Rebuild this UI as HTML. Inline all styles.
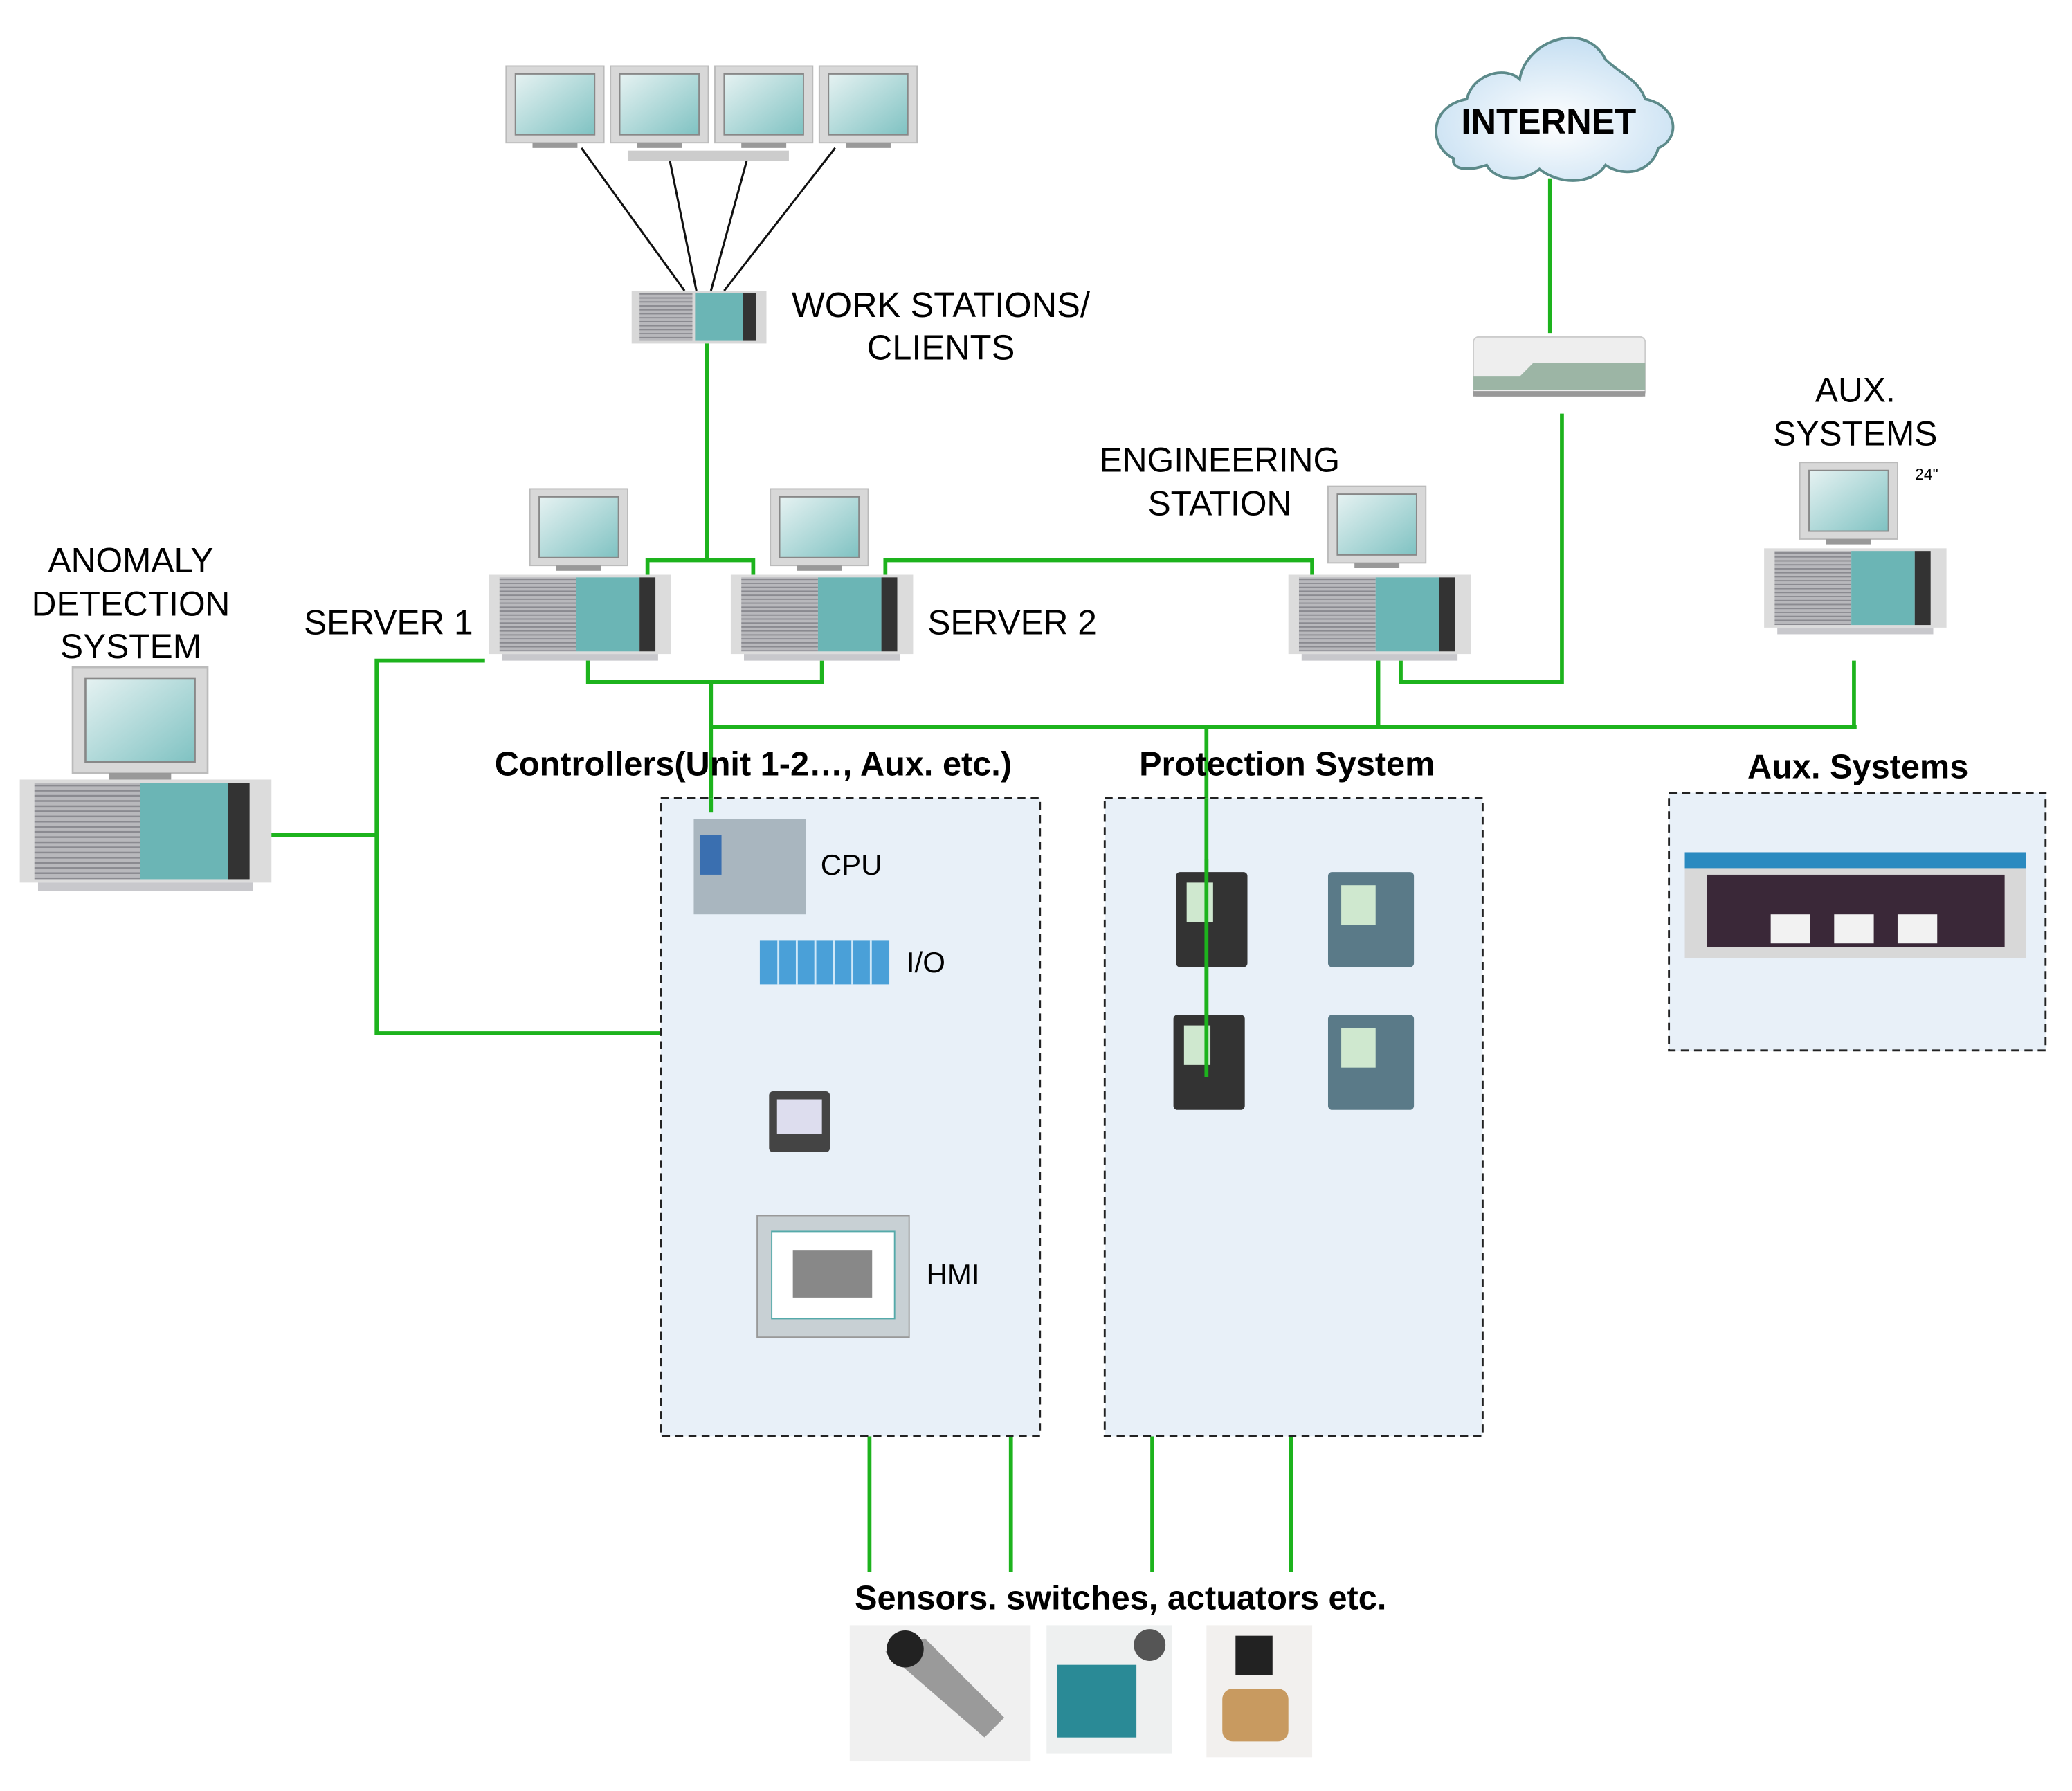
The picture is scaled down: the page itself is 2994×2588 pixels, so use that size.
<!DOCTYPE html>
<html><head><meta charset="utf-8"><style>html,body{margin:0;padding:0;background:#fff}svg{display:block}</style></head><body>
<svg width="2994" height="2588" viewBox="0 0 1568 1355.5" preserveAspectRatio="none" xmlns="http://www.w3.org/2000/svg" font-family="Liberation Sans, sans-serif">
<defs>
<linearGradient id="scr" x1="0" y1="0" x2="1" y2="1"><stop offset="0" stop-color="#e6f2f2"/><stop offset="1" stop-color="#7fc2c2"/></linearGradient>
<pattern id="str" width="4" height="3" patternUnits="userSpaceOnUse"><rect width="4" height="3" fill="#b8b8bc"/><rect width="4" height="1" fill="#8a8a90"/></pattern>
<radialGradient id="cl" cx="0.5" cy="0.6" r="0.6"><stop offset="0" stop-color="#fff"/><stop offset="1" stop-color="#c6dff2"/></radialGradient>
<g id="mon"><rect x="0" y="0" width="74" height="58" fill="#d8d8d8" stroke="#bbb"/><rect x="7" y="6" width="60" height="46" fill="url(#scr)" stroke="#888"/><rect x="20" y="58" width="34" height="4" fill="#999"/></g>
<g id="pc"><rect x="0" y="0" width="138" height="60" fill="#dcdcdc"/><rect x="8" y="2" width="58" height="56" fill="url(#str)"/><rect x="66" y="2" width="48" height="56" fill="#6bb5b5"/><rect x="114" y="2" width="12" height="56" fill="#333"/><rect x="10" y="60" width="118" height="5" fill="#c8c8cc"/></g>
</defs>
<g fill="none" stroke="#111" stroke-width="1.6">
<line x1="440" y1="112" x2="518" y2="220"/><line x1="507" y1="122" x2="527" y2="220"/><line x1="565" y1="122" x2="538" y2="220"/><line x1="632" y1="112" x2="548" y2="220"/>
</g>
<use href="#mon" x="383" y="50"/><use href="#mon" x="462" y="50"/><use href="#mon" x="541" y="50"/><use href="#mon" x="620" y="50"/>
<rect x="475" y="114" width="122" height="8" fill="#ccc"/>
<rect x="478" y="220" width="102" height="40" fill="#d8d8d8"/><rect x="484" y="222" width="40" height="36" fill="url(#str)"/><rect x="526" y="222" width="36" height="36" fill="#6bb5b5"/><rect x="562" y="222" width="10" height="36" fill="#333"/>
<text x="712" y="240" font-size="26.5" text-anchor="middle">WORK STATIONS/</text><text x="712" y="272" font-size="26.5" text-anchor="middle">CLIENTS</text>
<path d="M1100 120 C1080 110,1082 80,1110 75 C1115 55,1140 50,1150 60 C1155 30,1200 15,1215 45 C1225 55,1240 60,1245 75 C1270 80,1272 105,1255 112 C1250 130,1230 135,1215 125 C1205 140,1180 140,1165 128 C1150 140,1130 135,1125 125 C1110 130,1098 128,1100 120 Z" fill="url(#cl)" stroke="#5c8a8a" stroke-width="2"/>
<text x="1172" y="101" font-size="26.5" font-weight="bold" text-anchor="middle">INTERNET</text>
<rect x="1115" y="255" width="130" height="45" rx="4" fill="#eee" stroke="#ccc"/><path d="M1115 285 L1150 285 L1160 275 L1245 275 L1245 295 L1115 295Z" fill="#9cb5a5"/><rect x="1115" y="296" width="130" height="4" fill="#999"/>
<g fill="none" stroke="#1db31d" stroke-width="3">
<line x1="1173" y1="135" x2="1173" y2="252"/>
<polyline points="535,260 535,424"/><polyline points="490,435 490,424 570,424 570,435"/>
<polyline points="670,435 670,424 993,424 993,435"/>
<polyline points="445,497 445,516 622,516 622,500"/>
<polyline points="538,516 538,615"/>
<polyline points="538,550 1405,550"/>
<polyline points="1043,497 1043,550"/><polyline points="1403,500 1403,550"/>
<polyline points="913,550 913,815"/>
<polyline points="1060,500 1060,516 1182,516 1182,313"/>
<polyline points="205,632 285,632"/><polyline points="367,500 285,500 285,782 500,782"/>
<polyline points="538,692 538,820"/><polyline points="538,717 575,717"/><polyline points="538,850 582,850"/><polyline points="532,780 532,970 572,970"/>
<line x1="658" y1="1087" x2="658" y2="1190"/><line x1="765" y1="1087" x2="765" y2="1190"/><line x1="872" y1="1087" x2="872" y2="1190"/><line x1="977" y1="1087" x2="977" y2="1190"/>
</g>
<use href="#mon" x="401" y="370"/><use href="#pc" x="370" y="435"/>
<use href="#mon" x="583" y="370"/><use href="#pc" x="553" y="435"/>
<use href="#mon" x="1005" y="368"/><use href="#pc" x="975" y="435"/>
<use href="#mon" x="1362" y="350"/><use href="#pc" x="1335" y="415"/>
<g transform="translate(55,505) scale(1.38)"><use href="#mon"/></g>
<g transform="translate(15,590) scale(1.38,1.3)"><use href="#pc"/></g>
<text x="294" y="480" font-size="26" text-anchor="middle">SERVER 1</text>
<text x="766" y="480" font-size="26" text-anchor="middle">SERVER 2</text>
<text x="923" y="357" font-size="26" text-anchor="middle">ENGINEERING</text><text x="923" y="390" font-size="26" text-anchor="middle">STATION</text>
<text x="1404" y="304" font-size="26" text-anchor="middle">AUX.</text><text x="1404" y="337" font-size="26" text-anchor="middle">SYSTEMS</text>
<text x="1458" y="363" font-size="12" text-anchor="middle">24"</text>
<text x="99" y="433" font-size="26" text-anchor="middle">ANOMALY</text><text x="99" y="466" font-size="26" text-anchor="middle">DETECTION</text><text x="99" y="498" font-size="26" text-anchor="middle">SYSTEM</text>
<g fill="#e8f0f8" stroke="#222" stroke-width="1.5" stroke-dasharray="6,4">
<rect x="500" y="604" width="287" height="483"/><rect x="836" y="604" width="286" height="483"/><rect x="1263" y="600" width="285" height="195"/>
</g>
<g stroke="#1db31d" stroke-width="3"><line x1="913" y1="604" x2="913" y2="815"/><line x1="538" y1="604" x2="538" y2="615"/></g>
<text x="570" y="587" font-size="25.5" font-weight="bold" text-anchor="middle">Controllers(Unit 1-2…, Aux. etc.)</text>
<text x="974" y="587" font-size="25.5" font-weight="bold" text-anchor="middle">Protection System</text>
<text x="1406" y="589" font-size="25.5" font-weight="bold" text-anchor="middle">Aux. Systems</text>
<rect x="525" y="620" width="85" height="72" fill="#a9b6bf"/><rect x="530" y="632" width="16" height="30" fill="#3a6fb0"/>
<rect x="575" y="712" width="98" height="33" fill="#4aa0d8"/><g stroke="#cfe8f8" stroke-width="1.5"><line x1="589" y1="712" x2="589" y2="745"/><line x1="603" y1="712" x2="603" y2="745"/><line x1="617" y1="712" x2="617" y2="745"/><line x1="631" y1="712" x2="631" y2="745"/><line x1="645" y1="712" x2="645" y2="745"/><line x1="659" y1="712" x2="659" y2="745"/></g>
<rect x="582" y="826" width="46" height="46" rx="3" fill="#444"/><rect x="588" y="832" width="34" height="26" fill="#dde"/>
<rect x="573" y="920" width="115" height="92" fill="#c8d0d4" stroke="#999"/><rect x="584" y="932" width="93" height="66" fill="#fff" stroke="#5aa"/><rect x="600" y="946" width="60" height="36" fill="#888"/>
<text x="621" y="662" font-size="22">CPU</text><text x="686" y="736" font-size="22">I/O</text><text x="701" y="972" font-size="22">HMI</text>
<g fill="#333"><rect x="890" y="660" width="54" height="72" rx="3"/><rect x="888" y="768" width="54" height="72" rx="3"/></g>
<g fill="#5a7a88"><rect x="1005" y="660" width="65" height="72" rx="3"/><rect x="1005" y="768" width="65" height="72" rx="3"/></g>
<g fill="#cfe8cf"><rect x="1015" y="670" width="26" height="30"/><rect x="1015" y="778" width="26" height="30"/><rect x="898" y="668" width="20" height="30"/><rect x="896" y="776" width="20" height="30"/></g>
<g stroke="#1db31d" stroke-width="3"><line x1="913" y1="650" x2="913" y2="815"/></g>
<rect x="1275" y="645" width="258" height="80" fill="#d8d8d8"/><rect x="1275" y="645" width="258" height="12" fill="#2a8ac0"/><rect x="1292" y="662" width="225" height="55" fill="#3a2838"/>
<g fill="#f2f2f2"><rect x="1340" y="692" width="30" height="22"/><rect x="1388" y="692" width="30" height="22"/><rect x="1436" y="692" width="30" height="22"/></g>
<text x="848" y="1218" font-size="25.5" font-weight="bold" text-anchor="middle">Sensors. switches, actuators etc.</text>
<rect x="643" y="1230" width="137" height="103" fill="#f0f0f0"/><path d="M670 1250 L700 1240 L760 1300 L745 1315 Z" fill="#9a9a9a"/><circle cx="685" cy="1248" r="14" fill="#222"/>
<rect x="792" y="1230" width="95" height="97" fill="#eef0f0"/><rect x="800" y="1260" width="60" height="55" fill="#2a8a96"/><circle cx="870" cy="1245" r="12" fill="#555"/>
<rect x="913" y="1230" width="80" height="100" fill="#f2f0ee"/><rect x="935" y="1238" width="28" height="30" fill="#222"/><rect x="925" y="1278" width="50" height="40" rx="8" fill="#c89a60"/>
</svg>
</body></html>
